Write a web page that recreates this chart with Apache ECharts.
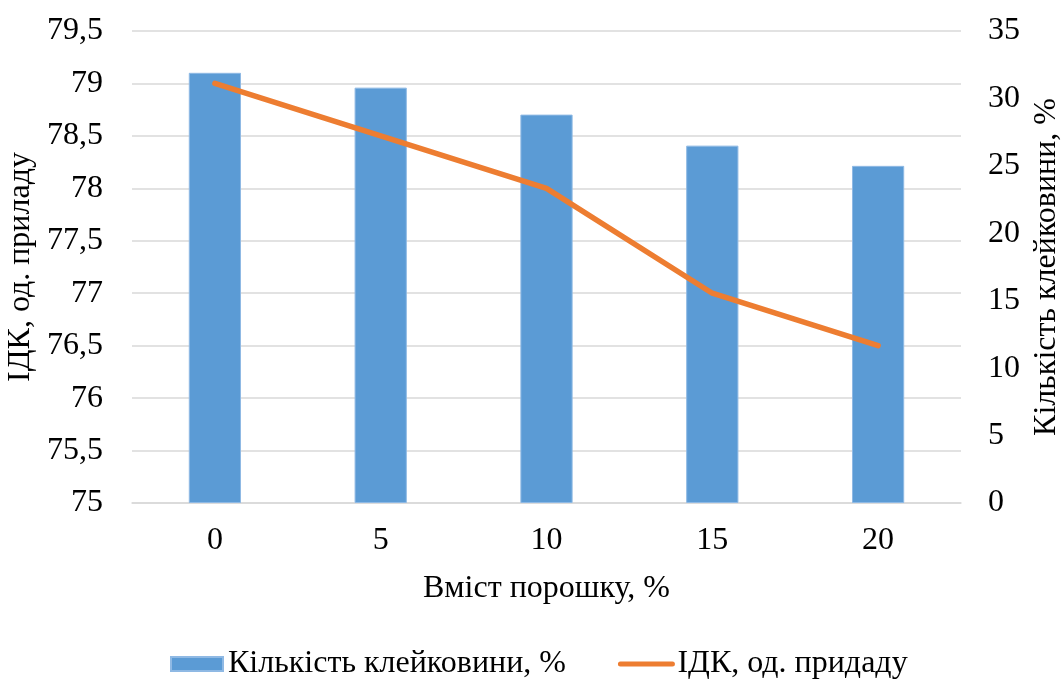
<!DOCTYPE html>
<html>
<head>
<meta charset="utf-8">
<script src="https://cdn.jsdelivr.net/npm/echarts@6/dist/echarts.min.js"></script>
<style>
  html, body { margin: 0; padding: 0; background: #fff; }
  #chart { width: 1061px; height: 680px; }
</style>
</head>
<body>
<div id="chart"></div>
<script>
// Powder content, %
const categories = ['0', '5', '10', '15', '20'];
// Gluten amount, % (right axis, bars)
const glutenValues = [31.9, 30.8, 28.8, 26.5, 25.0];
// Gluten deformation index, device units (left axis, line)
const idkValues = [79.0, 78.5, 78.0, 77.0, 76.5];

const barName = 'Кількість клейковини, %';
const lineName = 'ІДК, од. придаду';

const FONT = "'Liberation Serif', 'Times New Roman', serif";
const txt = { fontFamily: FONT, fontSize: 32, color: '#000' };

const chart = echarts.init(document.getElementById('chart'), null, { renderer: 'canvas' });
chart.setOption({
  animation: false,
  backgroundColor: '#fff',
  textStyle: { fontFamily: FONT },
  grid: {
    left: 132, right: 100, top: 31, bottom: 177,
    containLabel: false,
    outerBoundsMode: 'none'
  },
  legend: {
    top: 643,
    left: 165,
    itemWidth: 52,
    itemHeight: 14,
    itemGap: 52,
    textStyle: txt,
    data: [
      { name: barName, icon: 'rect' },
      {
        name: lineName,
        itemStyle: { opacity: 0 },
        lineStyle: { width: 5, color: '#ed7d31', cap: 'round' }
      }
    ]
  },
  xAxis: {
    type: 'category',
    data: categories,
    name: 'Вміст порошку, %',
    nameLocation: 'middle',
    nameGap: 70,
    nameTextStyle: txt,
    axisLine: { show: true, lineStyle: { color: '#d9d9d9', width: 1.5 } },
    axisTick: { show: false },
    axisLabel: Object.assign({ margin: 22 }, txt)
  },
  yAxis: [
    {
      type: 'value',
      min: 75,
      max: 79.5,
      interval: 0.5,
      position: 'left',
      name: 'ІДК, од. приладу',
      nameLocation: 'middle',
      nameRotate: 90,
      nameGap: 84,
      nameTextStyle: txt,
      axisLine: { show: false },
      axisTick: { show: false },
      axisLabel: Object.assign({
        margin: 29,
        formatter: v => String(Math.round(v * 10) / 10).replace('.', ',')
      }, txt),
      splitLine: { show: true, lineStyle: { color: '#d9d9d9', width: 1.5 } }
    },
    {
      type: 'value',
      min: 0,
      max: 35,
      interval: 5,
      position: 'right',
      name: 'Кількість клейковини, %',
      nameLocation: 'middle',
      nameRotate: 90,
      nameGap: 69,
      nameTextStyle: txt,
      axisLine: { show: false },
      axisTick: { show: false },
      axisLabel: Object.assign({ margin: 27 }, txt),
      splitLine: { show: false }
    }
  ],
  series: [
    {
      name: barName,
      type: 'bar',
      yAxisIndex: 1,
      data: glutenValues,
      barWidth: '31.5%',
      itemStyle: { color: '#5b9bd5', borderColor: '#8fb9e4', borderWidth: 1 },
      z: 2
    },
    {
      name: lineName,
      type: 'line',
      yAxisIndex: 0,
      data: idkValues,
      symbol: 'none',
      lineStyle: { color: '#ed7d31', width: 5.5, cap: 'round', join: 'round' },
      itemStyle: { color: '#ed7d31' },
      z: 3
    }
  ]
});
</script>
</body>
</html>
